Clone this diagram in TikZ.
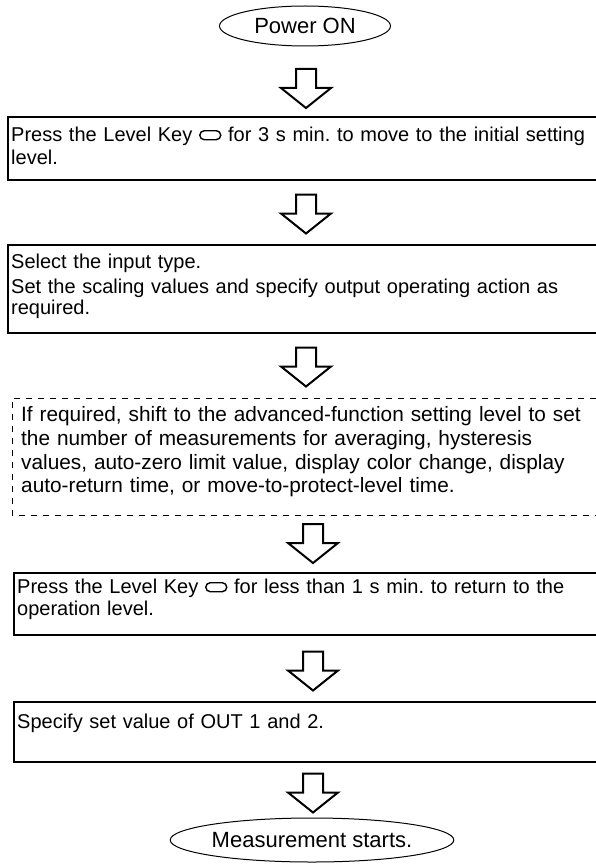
\documentclass[tikz,border=0pt]{standalone}
\usepackage{fontspec}
\setmainfont{Liberation Sans}
\usetikzlibrary{shapes.geometric,positioning}
\tikzset{
	%Define style for the start and end ovals
	oval/.style={
		ellipse,
		draw=black, line width=1pt,
		inner sep=0pt,
		font=\fontsize{22}{25}\selectfont},
	%Define style for the text of the step boxes
	stepbox/.style={
		anchor=north west,
		inner xsep=3pt, inner ysep=0pt,
		text width=620pt,
		align=left,
		font=\fontsize{20}{23.5}\selectfont\frenchspacing},
	% Define frame lines (open on the right)
	boxline/.style={line width=2pt, line join=miter},
	dashline/.style={line width=1pt, dash pattern=on 6pt off 6pt},
	% Define hollow block arrow
	blockdown/.pic={
		\draw[line width=2pt, line join=miter]
		(-10,-19.5) -- (10,-19.5) -- (10,-0.5) -- (25,-0.5) -- (0,19.5) -- (-25,-0.5) -- (-10,-0.5) -- cycle;}
}
\newcommand{\levelkey}{\tikz[baseline=-1.5pt]\draw[line width=1.4pt, rounded corners=4.5pt] (0pt,0pt) rectangle (21pt,9pt);}

\begin{document}
\begin{tikzpicture}[x=1pt, y=-1pt]
	\useasboundingbox (0,0) rectangle (596,864);
	\coordinate (edge) at (596,0); % right border of the page, boxes run past it
	
	\node[oval, minimum width=171pt, minimum height=40pt] (start) at (305,26) {Power ON};
	\pic (a1) at (306,88.5) {blockdown};
	
	\node[stepbox, text height=24pt, text depth=39pt] (b1) at (8,117)
		{Press the Level Key \levelkey{} for 3 s min. to move to the initial setting\\level.};
	\draw[boxline] (b1.north west -| edge) -- (b1.north west) -- (b1.south west) -- (b1.south west -| edge);
	\pic (a2) at (306,214) {blockdown};
	
	\node[stepbox, text height=23pt, text depth=65pt] (b2) at (8,245)
		{Select the input type.\\[2pt]Set the scaling values and specify output operating action as\\[-3pt]required.};
	\draw[boxline] (b2.north west -| edge) -- (b2.north west) -- (b2.south west) -- (b2.south west -| edge);
	\pic (a3) at (306,367) {blockdown};
	
	\node[stepbox, inner xsep=9pt, text height=23.7pt, text depth=93.3pt, font=\fontsize{20.8}{23.6}\selectfont] (b3) at (12,398)
		{If required, shift to the advanced-function setting level to set\\the number of measurements for averaging, hysteresis\\values, auto-zero limit value, display color change, display\\auto-return time, or move-to-protect-level time.};
	\draw[dashline] (b3.north west -| edge) -- (b3.north west) -- (b3.south west) -- (b3.south west -| edge);
	\pic (a4) at (313,543.5) {blockdown};
	
	\node[stepbox, text height=20pt, text depth=42pt] (b4) at (14,573)
		{Press the Level Key \levelkey{} for less than 1 s min. to return to the\\[-1.5pt]operation level.};
	\draw[boxline] (b4.north west -| edge) -- (b4.north west) -- (b4.south west) -- (b4.south west -| edge);
	\pic (a5) at (313,671) {blockdown};
	
	\node[stepbox, text height=26pt, text depth=34pt] (b5) at (14,702)
		{Specify set value of OUT 1 and 2.};
	\draw[boxline] (b5.north west -| edge) -- (b5.north west) -- (b5.south west) -- (b5.south west -| edge);
	\pic (a6) at (313,793) {blockdown};
	
	\node[oval, minimum width=228pt, minimum height=44pt] (stop) at (312,840) {Measurement starts.};
	
\end{tikzpicture}
\end{document}
